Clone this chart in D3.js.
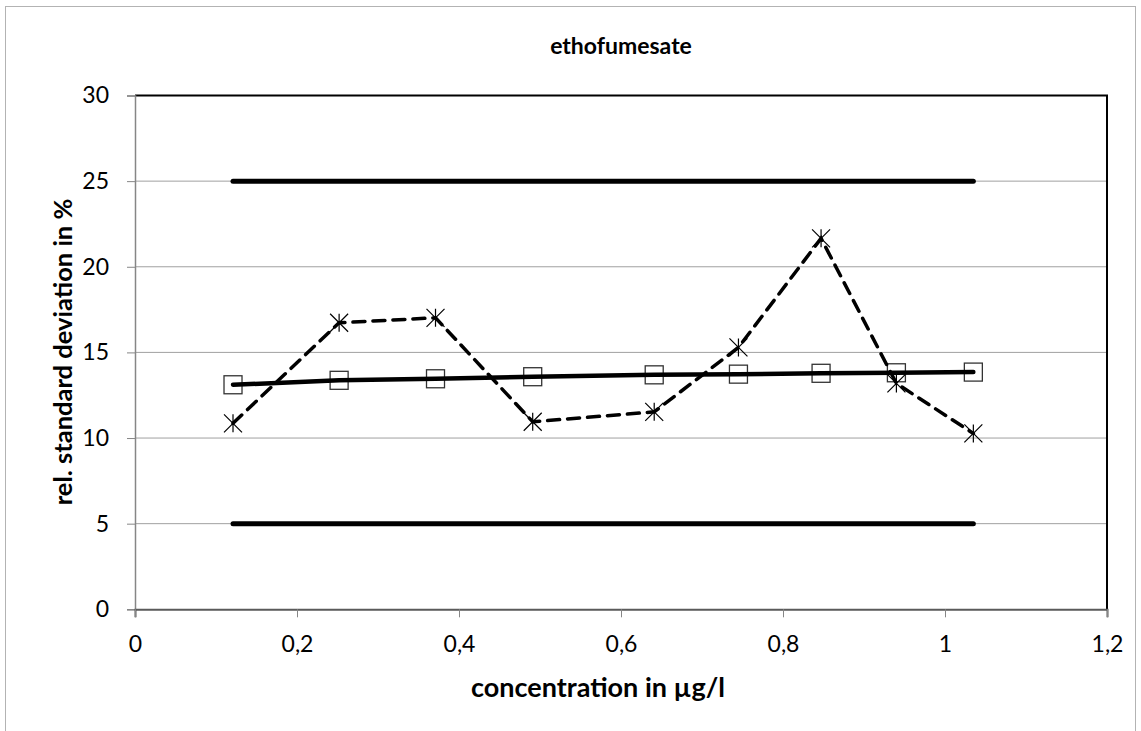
<!DOCTYPE html>
<html><head><meta charset="utf-8">
<script src="https://cdn.jsdelivr.net/npm/d3@7"></script>
<style>body{margin:0;background:#fff}svg{display:block}text{font-family:Lato,"Open Sans",sans-serif}</style>
</head><body><svg id="c" width="1141" height="731"></svg>
<script>
const concentration = [0.121, 0.252, 0.371, 0.491, 0.641, 0.745, 0.847, 0.940, 1.035];
const rsdMeasured = [10.86, 16.73, 17.02, 10.95, 11.53, 15.29, 21.66, 13.19, 10.27];
const rsdFit = [13.11, 13.37, 13.46, 13.58, 13.69, 13.73, 13.78, 13.81, 13.85];
const limitUpper = 25, limitLower = 5;
const xTicks = [0, 0.2, 0.4, 0.6, 0.8, 1, 1.2];
const yTicks = [0, 5, 10, 15, 20, 25, 30];

const svg = d3.select('#c');
const L = 135, R = 1107, T = 95.5, B = 609.3;
const x = d3.scaleLinear().domain([0, 1.2]).range([L, R]);
const y = d3.scaleLinear().domain([0, 30]).range([B, T]);
const fmt = d => String(d).replace('.', ',');

svg.append('rect').attr('x', 5.5).attr('y', 6.5).attr('width', 1130).attr('height', 740)
  .attr('fill', 'none').attr('stroke', '#b3b3b3').attr('stroke-width', 1);

// gridlines
svg.append('g').selectAll('line').data(yTicks.filter(d => d > 0 && d < 30)).join('line')
  .attr('x1', L).attr('x2', R).attr('y1', d => y(d)).attr('y2', d => y(d))
  .attr('stroke', '#a0a0a0').attr('stroke-width', 1);

// plot border top/right
svg.append('path').attr('d', `M${L},${T}H${R}V${B}`).attr('fill', 'none').attr('stroke', '#000').attr('stroke-width', 2);

// axes
const yAxis = d3.axisLeft(y).tickValues(yTicks).tickSize(8).tickPadding(18).tickFormat(fmt);
const gy = svg.append('g').attr('transform', `translate(${L},0)`).call(yAxis);
gy.select('.domain').attr('stroke', '#868686').attr('stroke-width', 1.5);
gy.selectAll('.tick line').attr('stroke', '#868686');
gy.selectAll('.tick text').attr('font-size', 23).attr('fill', '#000').attr('font-family', 'Lato,sans-serif');

const xAxis = d3.axisBottom(x).tickValues(xTicks).tickSize(8).tickPadding(18).tickFormat(fmt);
const gx = svg.append('g').attr('transform', `translate(0,${B})`).call(xAxis);
gx.select('.domain').attr('stroke', '#5a5a5a').attr('stroke-width', 2);
gx.selectAll('.tick line').attr('stroke', '#868686');
gx.selectAll('.tick text').attr('font-size', 23).attr('fill', '#000').attr('font-family', 'Lato,sans-serif');

// limit lines
const xMin = d3.min(concentration), xMax = d3.max(concentration);
[limitUpper, limitLower].forEach(v => {
  svg.append('line').attr('x1', x(xMin)).attr('x2', x(xMax)).attr('y1', y(v)).attr('y2', y(v))
    .attr('stroke', '#000').attr('stroke-width', 5).attr('stroke-linecap', 'round');
});

const line = d3.line().x(d => x(d[0])).y(d => y(d[1]));
const measured = concentration.map((c, i) => [c, rsdMeasured[i]]);
const fit = concentration.map((c, i) => [c, rsdFit[i]]);

// squares (under the line)
svg.append('g').selectAll('rect').data(fit).join('rect')
  .attr('x', d => x(d[0]) - 9).attr('y', d => y(d[1]) - 9).attr('width', 18).attr('height', 18)
  .attr('fill', '#fff').attr('stroke', '#333').attr('stroke-width', 1.3);

svg.append('path').datum(fit).attr('d', line).attr('fill', 'none')
  .attr('stroke', '#000').attr('stroke-width', 4.5).attr('stroke-linecap', 'round');

svg.append('path').datum(measured).attr('d', line).attr('fill', 'none')
  .attr('stroke', '#000').attr('stroke-width', 3.5).attr('stroke-dasharray', '12,8').attr('stroke-linecap', 'round');

// asterisks
const s = 9;
svg.append('g').selectAll('path').data(measured).join('path')
  .attr('d', d => { const cx = x(d[0]), cy = y(d[1]);
    return `M${cx - s},${cy - s}L${cx + s},${cy + s}M${cx - s},${cy + s}L${cx + s},${cy - s}M${cx},${cy - s}L${cx},${cy + s}`; })
  .attr('fill', 'none').attr('stroke', '#000').attr('stroke-width', 1.2);

// titles
svg.append('text').attr('x', 621).attr('y', 54).attr('text-anchor', 'middle')
  .attr('font-size', 23).attr('font-weight', 'bold').text('ethofumesate');
svg.append('text').attr('x', 598).attr('y', 697).attr('text-anchor', 'middle')
  .attr('font-size', 27).attr('font-weight', 'bold').text('concentration in µg/l');
svg.append('text').attr('transform', 'translate(72,352) rotate(-90)').attr('text-anchor', 'middle')
  .attr('font-size', 25.5).attr('font-weight', 'bold').text('rel. standard deviation in %');
</script></body></html>
